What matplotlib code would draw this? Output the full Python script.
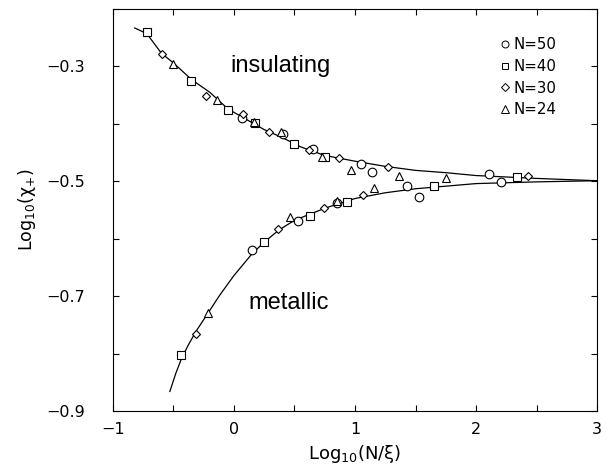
import matplotlib
matplotlib.use('Agg')
import matplotlib.pyplot as plt
from matplotlib.lines import Line2D

plt.rcParams['font.family'] = ['DejaVu Sans']

# scaling curves
ins_x = [-0.82, -0.72, -0.6, -0.5, -0.35, -0.2, -0.05, 0.1, 0.25, 0.4, 0.55, 0.75,
         1.0, 1.25, 1.5, 1.75, 2.0, 2.5, 3.0]
ins_y = [-0.233, -0.243, -0.277, -0.294, -0.323, -0.345, -0.374, -0.392, -0.410, -0.424,
         -0.440, -0.455, -0.465, -0.474, -0.481, -0.485, -0.490, -0.495, -0.499]
met_x = [-0.53, -0.48, -0.44, -0.38, -0.31, -0.21, -0.12, 0.0, 0.15, 0.25, 0.37, 0.5,
         0.63, 0.75, 0.85, 1.0, 1.25, 1.5, 2.0, 2.5, 3.0]
met_y = [-0.866, -0.834, -0.812, -0.786, -0.760, -0.728, -0.699, -0.664, -0.626, -0.606,
         -0.585, -0.568, -0.557, -0.547, -0.540, -0.530, -0.520, -0.513, -0.504, -0.501, -0.499]

# data points per system size
n50_x = [0.064, 0.402, 0.656, 1.050, 1.143, 2.110, 0.146, 0.531, 0.849, 1.432, 1.532, 2.204]
n50_y = [-0.389, -0.418, -0.444, -0.470, -0.484, -0.488, -0.620, -0.569, -0.538, -0.508, -0.527, -0.502]
n40_x = [-0.722, -0.358, -0.052, 0.174, 0.498, 0.752, 2.336, -0.438, 0.248, 0.628, 0.936, 1.655]
n40_y = [-0.240, -0.325, -0.376, -0.398, -0.435, -0.457, -0.493, -0.802, -0.605, -0.560, -0.536, -0.509]
n30_x = [-0.598, -0.231, 0.072, 0.292, 0.620, 0.870, 1.275, 2.432, -0.314, 0.366, 0.746, 1.064]
n30_y = [-0.279, -0.351, -0.383, -0.415, -0.446, -0.460, -0.475, -0.491, -0.766, -0.583, -0.547, -0.523]
n24_x = [-0.507, -0.138, 0.168, 0.388, 0.725, 0.970, 1.366, 1.752, -0.212, 0.463, 0.849, 1.160]
n24_y = [-0.296, -0.358, -0.396, -0.414, -0.457, -0.480, -0.491, -0.495, -0.729, -0.562, -0.534, -0.512]

labels = ['N=50', 'N=40', 'N=30', 'N=24']
xticks = [-1, -0.5, 0, 0.5, 1, 1.5, 2, 2.5, 3]
xticklabels = ['\u22121', '', '0', '', '1', '', '2', '', '3']
yticks = [-0.9, -0.8, -0.7, -0.6, -0.5, -0.4, -0.3, -0.2]
yticklabels = ['\u22120.9', '', '\u22120.7', '', '\u22120.5', '', '\u22120.3', '']

fig = plt.figure(figsize=(6.16, 4.74), dpi=100)
ax = fig.add_axes([0.1834, 0.1329, 0.7858, 0.8481])

ax.plot(ins_x, ins_y, color='k', lw=0.9, zorder=2)
ax.plot(met_x, met_y, color='k', lw=0.9, zorder=2)

mk = dict(ls='none', mfc='white', mec='k', mew=0.8, zorder=3)
ax.plot(n50_x, n50_y, marker='o', ms=6.2, **mk)
ax.plot(n40_x, n40_y, marker='s', ms=5.3, **mk)
ax.plot(n30_x, n30_y, marker='D', ms=3.8, **mk)
ax.plot(n24_x, n24_y, marker='^', ms=6.3, **mk)

ax.text(-0.033, -0.309, 'insulating', fontsize=17, va='baseline', ha='left',
        family='Liberation Sans')
ax.text(0.118, -0.723, 'metallic', fontsize=17, va='baseline', ha='left',
        family='Liberation Sans')

handles = [Line2D([], [], marker=m, ls='none', mfc='white', mec='k', mew=0.7, ms=s)
           for m, s in zip(['o', 's', 'D', '^'], [5.0, 4.5, 3.6, 5.2])]
ax.legend(handles, labels, loc='upper right', bbox_to_anchor=(0.917, 0.93),
          frameon=False, fontsize=10.8, handlelength=0.6, handletextpad=0.3,
          labelspacing=0.45, borderaxespad=0.0, borderpad=0.0)

ax.set_xlim(-1, 3)
ax.set_ylim(-0.9, -0.2)
ax.set_xticks(xticks)
ax.set_xticklabels(xticklabels)
ax.set_yticks(yticks)
ax.set_yticklabels(yticklabels)
ax.tick_params(direction='in', top=True, right=True, length=4.5, width=0.8, labelsize=11.5)
ax.tick_params(axis='x', pad=8)
ax.tick_params(axis='y', pad=20)
for s in ax.spines.values():
    s.set_linewidth(0.8)

ax.set_xlabel(r'Log$_{10}$(N/ξ)', fontsize=13, labelpad=4)
ax.set_ylabel(r'Log$_{10}$(χ$_{+}$)', fontsize=12.5, labelpad=6)

fig.savefig('out.png', dpi=100)
